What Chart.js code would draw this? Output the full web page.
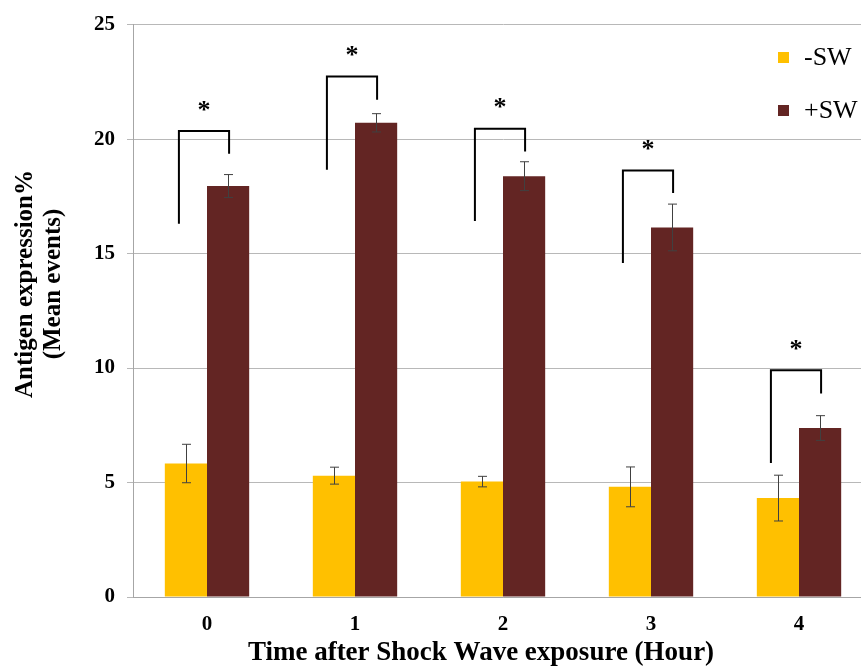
<!DOCTYPE html>
<html><head><meta charset="utf-8">
<script src="https://cdn.jsdelivr.net/npm/chart.js@4"></script>
<style>html,body{margin:0;padding:0;overflow:hidden;background:#fff}
#wrap{width:880px;height:668px;position:relative}</style></head>
<body><div id="wrap"><canvas id="c"></canvas></div>
<script>
const categories = ['0', '1', '2', '3', '4'];
const seriesNames = ['-SW', '+SW'];
const minusSW = [5.83, 5.30, 5.04, 4.81, 4.32];
const plusSW = [17.95, 20.71, 18.38, 16.14, 7.38];
const minusErr = [0.84, 0.37, 0.23, 0.87, 1.0];
const plusErr = [0.5, 0.4, 0.63, 1.02, 0.54];
const bracketTop = [20.35, 22.73, 20.45, 18.63, 9.90];
const bracketLeftEnd = [16.30, 18.66, 16.42, 14.59, 5.85];
const bracketRightEnd = [19.36, 21.72, 19.46, 17.64, 8.89];
const yTickValues = [0, 5, 10, 15, 20, 25];
const xTitle = 'Time after Shock Wave exposure (Hour)';
const yTitle = ['Antigen expression%', '(Mean events)'];
const colors = ['#FFC000', '#632523'];

const SERIF = "'Liberation Serif','Times New Roman',serif";

const overlay = {
  id: 'overlay',
  afterDatasetsDraw(chart) {
    const ctx = chart.ctx;
    const y = chart.scales.y;
    const errs = [minusErr, plusErr];
    const vals = [minusSW, plusSW];
    ctx.save();
    // error bars
    ctx.strokeStyle = '#404040';
    ctx.lineWidth = 1;
    for (let d = 0; d < 2; d++) {
      const meta = chart.getDatasetMeta(d);
      meta.data.forEach((bar, i) => {
        const x = Math.round(bar.x) + 0.5;
        const yt = y.getPixelForValue(vals[d][i] + errs[d][i]);
        const yb = y.getPixelForValue(vals[d][i] - errs[d][i]);
        ctx.beginPath();
        ctx.moveTo(x, yt); ctx.lineTo(x, yb);
        ctx.moveTo(x - 4.5, yt); ctx.lineTo(x + 4.5, yt);
        ctx.moveTo(x - 4.5, yb); ctx.lineTo(x + 4.5, yb);
        ctx.stroke();
      });
    }
    // significance brackets
    const m0 = chart.getDatasetMeta(0), m1 = chart.getDatasetMeta(1);
    ctx.strokeStyle = '#000';
    ctx.lineWidth = 2;
    ctx.fillStyle = '#000';
    ctx.font = 'bold 26px ' + SERIF;
    ctx.textAlign = 'center';
    ctx.textBaseline = 'middle';
    categories.forEach((c, i) => {
      const xl = m0.data[i].x - 7;
      const xr = m1.data[i].x + 1;
      const yt = y.getPixelForValue(bracketTop[i]);
      ctx.beginPath();
      ctx.moveTo(xl, y.getPixelForValue(bracketLeftEnd[i]));
      ctx.lineTo(xl, yt);
      ctx.lineTo(xr, yt);
      ctx.lineTo(xr, y.getPixelForValue(bracketRightEnd[i]));
      ctx.stroke();
      ctx.fillText('*', (xl + xr) / 2, yt - 20);
    });
    ctx.restore();
  },
  afterDraw(chart) {
    const ctx = chart.ctx;
    ctx.save();
    // legend
    ctx.font = '26px ' + SERIF;
    ctx.textAlign = 'left';
    ctx.textBaseline = 'middle';
    seriesNames.forEach((n, i) => {
      const yy = 57 + i * 53;
      ctx.fillStyle = colors[i];
      ctx.fillRect(778, yy - 5, 11, 11);
      ctx.fillStyle = '#000';
      ctx.fillText(n, 804, yy + 1);
    });
    // x title
    ctx.font = 'bold 27px ' + SERIF;
    ctx.textAlign = 'center';
    ctx.fillText(xTitle, 481, 653);
    // y title
    ctx.translate(0, 284);
    ctx.rotate(-Math.PI / 2);
    ctx.font = 'bold 25px ' + SERIF;
    ctx.fillText(yTitle[0], 0, 26);
    ctx.fillText(yTitle[1], 0, 54);
    ctx.restore();
  }
};

new Chart(document.getElementById('c'), {
  type: 'bar',
  data: {
    labels: categories,
    datasets: [
      { label: seriesNames[0], data: minusSW, backgroundColor: colors[0] },
      { label: seriesNames[1], data: plusSW, backgroundColor: colors[1] }
    ]
  },
  options: {
    responsive: true,
    maintainAspectRatio: false,
    animation: false,
    devicePixelRatio: 1,
    layout: { padding: { top: 24, right: 7, left: 0, bottom: 0 } },
    datasets: { bar: { categoryPercentage: 0.57, barPercentage: 1.0 } },
    plugins: { legend: { display: false }, tooltip: { enabled: false } },
    scales: {
      x: {
        grid: { display: false },
        border: { display: true, color: '#a6a6a6' },
        ticks: { color: '#000', padding: 7, font: { family: SERIF, size: 21, weight: 'bold' } },
        afterFit(s) { s.height = 71; }
      },
      y: {
        min: 0, max: 25,
        afterBuildTicks(s) { s.ticks = yTickValues.map(v => ({ value: v })); },
        grid: { color: '#b8b8b8', tickLength: 6 },
        border: { display: true, color: '#a6a6a6' },
        ticks: { color: '#000', padding: 12, font: { family: SERIF, size: 21, weight: 'bold' } },
        afterFit(s) { s.width = 133; }
      }
    }
  },
  plugins: [overlay]
});
</script>
</body></html>
